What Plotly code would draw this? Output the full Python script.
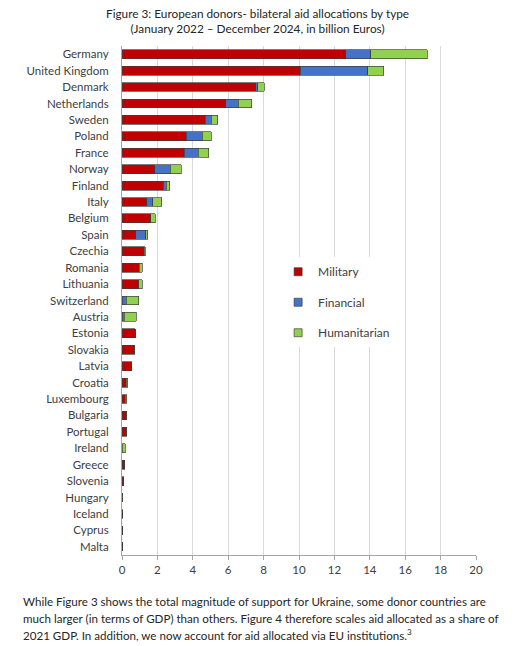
import plotly.graph_objects as go

countries = ["Germany", "United Kingdom", "Denmark", "Netherlands", "Sweden", "Poland",
             "France", "Norway", "Finland", "Italy", "Belgium", "Spain", "Czechia",
             "Romania", "Lithuania", "Switzerland", "Austria", "Estonia", "Slovakia",
             "Latvia", "Croatia", "Luxembourg", "Bulgaria", "Portugal", "Ireland",
             "Greece", "Slovenia", "Hungary", "Iceland", "Cyprus", "Malta"]

military = [12.63, 10.08, 7.55, 5.86, 4.71, 3.63, 3.52, 1.84, 2.33, 1.39, 1.60, 0.78, 1.27,
            0.97, 0.92, 0.0, 0.0, 0.74, 0.70, 0.55, 0.24, 0.18, 0.25, 0.25, 0.0,
            0.15, 0.10, 0.0, 0.03, 0.01, 0.01]
financial = [1.41, 3.79, 0.13, 0.71, 0.34, 0.91, 0.79, 0.89, 0.17, 0.35, 0.02, 0.55, 0.0,
             0.0, 0.03, 0.24, 0.12, 0.0, 0.0, 0.0, 0.0, 0.0, 0.0, 0.0, 0.0,
             0.0, 0.0, 0.0, 0.0, 0.0, 0.0]
humanitarian = [3.21, 0.93, 0.37, 0.77, 0.35, 0.49, 0.58, 0.62, 0.20, 0.51, 0.25, 0.13, 0.04,
                0.17, 0.19, 0.71, 0.68, 0.02, 0.01, 0.01, 0.09, 0.09, 0.01, 0.01, 0.18,
                0.01, 0.01, 0.05, 0.02, 0.0, 0.0]

series_names = ["Military", "Financial", "Humanitarian"]
series_values = [military, financial, humanitarian]
colors = ["#C00000", "#4472C4", "#92D050"]
x_ticks = [0, 2, 4, 6, 8, 10, 12, 14, 16, 18, 20]

title_lines = ["Figure 3: European donors- bilateral aid allocations by type",
               "(January 2022 \u2013 December 2024, in billion Euros)"]
body_lines = [
    "While Figure 3 shows the total magnitude of support for Ukraine, some donor countries are",
    "much larger (in terms of GDP) than others. Figure 4 therefore scales aid allocated as a share of",
    "2021 GDP. In addition, we now account for aid allocated via EU institutions.<sup>3</sup>",
]

FONT = "Lato, Open Sans, sans-serif"

fig = go.Figure()
for name, vals, col in zip(series_names, series_values, colors):
    fig.add_trace(go.Bar(
        y=countries, x=vals, orientation="h", name=name, showlegend=False,
        marker=dict(color=col, line=dict(color="rgba(60,60,60,0.85)", width=0.8)),
    ))
for i, (name, col) in enumerate(zip(series_names, colors)):
    fig.add_trace(go.Scatter(
        x=[None], y=[None], mode="markers", name=name, legendgroup=name,
        marker=dict(symbol="square", size=8, color=col,
                    line=dict(color="rgba(60,60,60,0.85)", width=0.8)),
    ))

fig.update_layout(
    barmode="stack",
    bargap=0.46,
    width=520, height=646,
    margin=dict(l=122, r=44, t=46, b=91),
    paper_bgcolor="white", plot_bgcolor="white",
    font=dict(family=FONT, size=11.5, color="#404040"),
    legend=dict(x=0.441, y=0.585, xanchor="left", yanchor="top",
                bgcolor="white", tracegroupgap=11.5, itemwidth=30,
                font=dict(size=12, color="#404040")),
    xaxis=dict(range=[0, 20], tickvals=x_ticks, showgrid=True, gridcolor="#d9d9d9",
               gridwidth=1, zeroline=False, showline=True, linecolor="#a6a6a6",
               ticks="outside", ticklen=4, tickcolor="#a6a6a6",
               tickfont=dict(size=11.5, color="#404040"), fixedrange=True),
    yaxis=dict(autorange="reversed", showline=True, linecolor="#a6a6a6",
               ticks="", ticklabelstandoff=10, showgrid=False,
               tickfont=dict(size=11.5, color="#404040")),
)

ann = []
ann.append(dict(text="<br>".join(title_lines), xref="paper", yref="paper",
                x=0.384, y=1.049, xanchor="center", yanchor="middle",
                showarrow=False, font=dict(size=11.8, color="#262626", family=FONT)))
for i, line in enumerate(body_lines):
    ann.append(dict(text=line, xref="paper", yref="paper",
                    x=-0.285, y=-0.0923 - i * 0.0315, xanchor="left", yanchor="middle",
                    showarrow=False, font=dict(size=11.6, color="#262626", family=FONT)))
fig.update_layout(annotations=ann)

fig.write_html("out.html")
